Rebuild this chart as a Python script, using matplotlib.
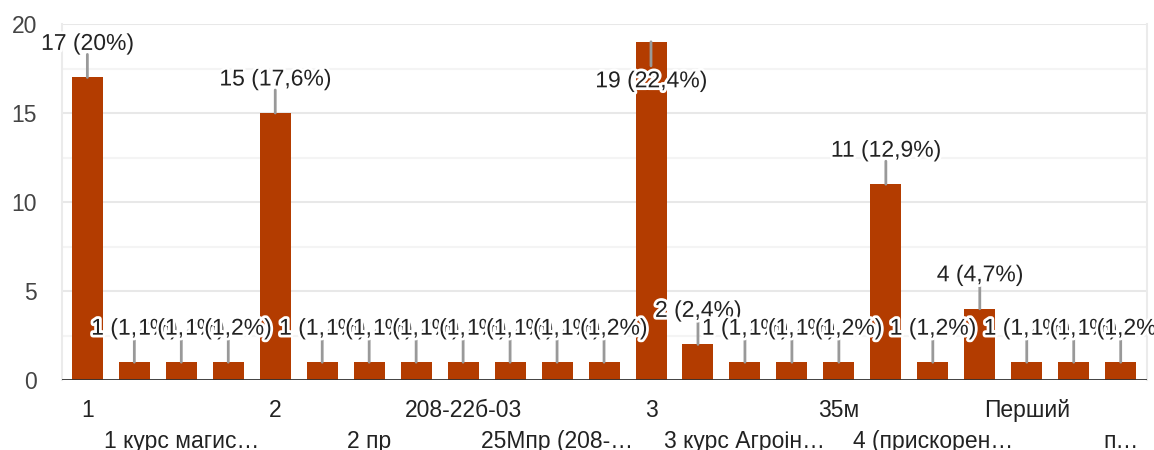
import matplotlib
matplotlib.use("Agg")
import matplotlib.pyplot as plt
import matplotlib.patheffects as pe
from matplotlib.ticker import MultipleLocator

# answers (only every second label is visible in the chart)
categories = ["1", "", "1 курс магис…", "", "2", "", "2 пр", "",
              "208-22б-03", "", "25Мпр (208-…", "", "3", "",
              "3 курс Агроін…", "", "35м", "", "4 (прискорен…", "",
              "Перший", "", "п…"]
counts = [17, 1, 1, 1, 15, 1, 1, 1, 1, 1, 1, 1, 19, 2, 1, 1, 1, 11, 1, 4, 1, 1, 1]
y_ticks = [0, 5, 10, 15, 20]

BAR = "#b33c00"
TXT = "#222222"
FONT = ["Liberation Sans", "DejaVu Sans"]
FS = 16.5

plt.rcParams["font.family"] = FONT


def main():
    fig = plt.figure(figsize=(11.54, 4.5), dpi=100)
    ax = fig.add_axes([62 / 1154, 1 - 380 / 450, (1147 - 62) / 1154, 356 / 450])

    x = list(range(len(counts)))
    ax.bar(x, counts, width=0.66, color=BAR, zorder=2)

    ax.set_xlim(-0.54, len(counts) - 0.44)
    ax.set_ylim(0, 20)
    ax.set_yticks(y_ticks)
    ax.yaxis.set_minor_locator(MultipleLocator(2.5))
    ax.grid(which="major", axis="y", color="#e8e8e8", lw=1.5, zorder=0)
    ax.grid(which="minor", axis="y", color="#f4f4f4", lw=1.5, zorder=0)
    ax.axhline(0, color="#333333", lw=2, zorder=3)

    for s in ["top", "bottom"]:
        ax.spines[s].set_visible(False)
    for s in ["left", "right"]:
        ax.spines[s].set_color("#ebebeb")
        ax.spines[s].set_linewidth(1.5)

    # x labels in two rows: major ticks first row, minor ticks second row
    row1 = [i for i in range(0, len(categories), 4)]
    row2 = [i for i in range(2, len(categories), 4)]
    ax.set_xticks(row1, [categories[i] for i in row1])
    ax.set_xticks(row2, [categories[i] for i in row2], minor=True)
    ax.tick_params(axis="x", which="major", length=0, pad=13.5, labelsize=FS, labelcolor=TXT)
    ax.tick_params(axis="x", which="minor", length=0, pad=36, labelsize=FS, labelcolor=TXT)
    ax.tick_params(axis="y", which="both", length=0, pad=18, labelsize=FS, labelcolor="#444444")

    total = sum(counts)
    halo = [pe.withStroke(linewidth=4, foreground="white")]
    for i, v in enumerate(counts):
        pct = f"{v / total * 100:.1f}".rstrip("0").rstrip(".").replace(".", ",")
        label = f"{v} ({pct}%)"
        if v > 17.5:
            line_dy, text_dy = -24, -39
        else:
            line_dy, text_dy = 23, 34
        ax.annotate("", xy=(i, v), xytext=(0, line_dy), textcoords="offset pixels",
                    arrowprops=dict(arrowstyle="-", color="#999999", lw=2,
                                    shrinkA=0, shrinkB=0), zorder=4)
        ax.annotate(label, xy=(i, v), xytext=(0, text_dy), textcoords="offset pixels",
                    ha="center", va="center", fontsize=FS, color=TXT,
                    path_effects=halo, zorder=5 + i, annotation_clip=False)

    fig.savefig("out.png", dpi=100)


if __name__ == "__main__":
    main()
